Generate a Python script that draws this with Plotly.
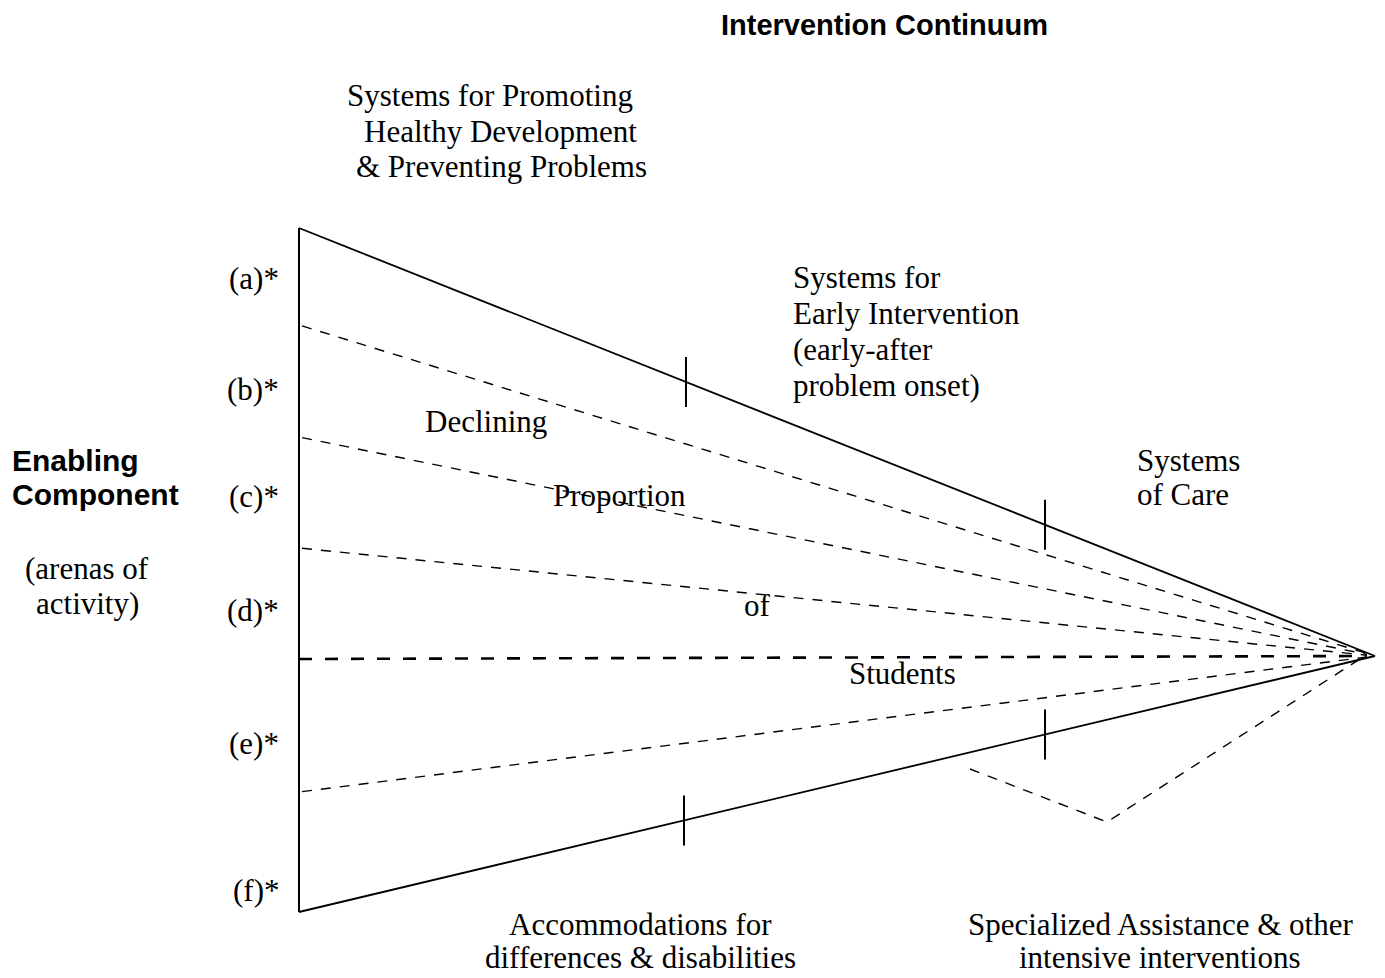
import plotly.graph_objects as go

W, H = 1385, 978
PAD = 8  # page body margin in browser

# ---- data ----
arena_labels = ["(a)*", "(b)*", "(c)*", "(d)*", "(e)*", "(f)*"]
arena_label_y = [278, 389, 496, 610, 743, 890]

apex = (1375, 656)
left_x = 299
top_y0 = 228
bottom_y0 = 912
divider_y0 = [325, 437, 548, 792]
middle_y0 = 659
top_tick_x = [686, 1045]
bottom_tick_x = [684, 1045]
tick_half = 25
v_points_x = [970, 1107, 1363]
v_points_y = [769, 822, 657]

SERIF = "Liberation Serif, Times New Roman, serif"
SANS = "Liberation Sans, Arial, sans-serif"
FS = 31
FB = 30

fig = go.Figure()

def seg(xs, ys, width=2, dash="solid"):
    fig.add_trace(go.Scatter(x=xs, y=ys, mode="lines",
                             line=dict(color="black", width=width, dash=dash),
                             hoverinfo="skip", showlegend=False))

def line_y(x, y0):
    return y0 + (apex[1] - y0) * (x - left_x) / (apex[0] - left_x)

# vertical axis line
seg([left_x, left_x], [top_y0, bottom_y0], 2)
# solid outer lines
seg([left_x, apex[0]], [top_y0, apex[1]], 1.8)
seg([left_x, apex[0]], [bottom_y0, apex[1]], 1.8)
# dashed dividers
for y0 in divider_y0:
    seg([left_x + 3, apex[0] - 8], [line_y(left_x + 3, y0), line_y(apex[0] - 8, y0)], 1.4, "10px,9px")
seg([left_x, apex[0] - 8], [middle_y0, apex[1]], 2.6, "13px,13px")
# V dashed
seg(v_points_x, v_points_y, 1.4, "10px,9px")

for tx in top_tick_x:
    yc = line_y(tx, top_y0)
    seg([tx, tx], [yc - tick_half, yc + tick_half], 2)
for tx in bottom_tick_x:
    yc = line_y(tx, bottom_y0)
    seg([tx, tx], [yc - tick_half, yc + tick_half], 2)

def txt(x, y, s, anchor="left", font=SERIF, size=FS, bold=False):
    if bold:
        s = "<b>" + s + "</b>"
    fig.add_annotation(x=x, y=y, text=s, showarrow=False, xanchor=anchor,
                       yanchor="middle", font=dict(family=font, size=size, color="black"),
                       xref="x", yref="y")

txt(884, 25, "Intervention Continuum", "center", SANS, 29, True)
txt(490, 95, "Systems for Promoting", "center")
txt(500, 131, "Healthy Development", "center")
txt(501, 166, "& Preventing Problems", "center")

for lab, y in zip(arena_labels, arena_label_y):
    txt(281, y, lab, "right")

for s, y in zip(["Systems for", "Early Intervention", "(early-after", "problem onset)"], [277, 313, 349, 385]):
    txt(791, y, s, "left")

txt(486, 421, "Declining", "center")
txt(619, 495, "Proportion", "center")
txt(757, 605, "of", "center")
txt(902, 673, "Students", "center")

txt(1135, 460, "Systems", "left")
txt(1135, 494, "of Care", "left")

txt(10, 460, "Enabling", "left", SANS, FB, True)
txt(10, 494, "Component", "left", SANS, FB, True)
txt(87, 568, "(arenas of", "center")
txt(87, 603, "activity)", "center")

txt(640, 924, "Accommodations for", "center")
txt(640, 957, "differences & disabilities", "center")
txt(1160, 924, "Specialized Assistance & other", "center")
txt(1160, 957, "intensive interventions", "center")

fig.update_layout(width=W - PAD, height=H - PAD, margin=dict(l=0, r=0, t=0, b=0),
                  plot_bgcolor="white", paper_bgcolor="white",
                  xaxis=dict(range=[PAD, W], visible=False, fixedrange=True),
                  yaxis=dict(range=[H, PAD], visible=False, fixedrange=True))
fig.write_html("out.html", config={"displayModeBar": False})
